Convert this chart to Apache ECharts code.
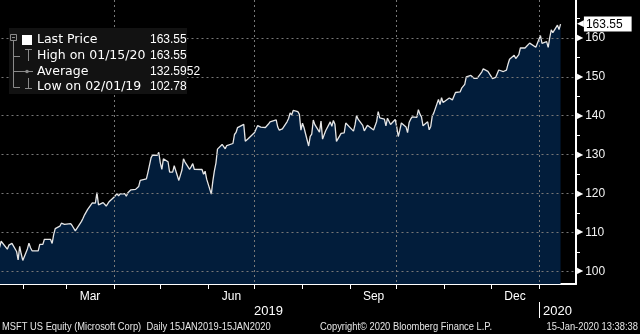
<!DOCTYPE html>
<html>
<head>
<meta charset="utf-8">
<script src="https://cdn.jsdelivr.net/npm/echarts@6/dist/echarts.min.js"></script>
<style>
  html, body { margin: 0; padding: 0; background: #000; }
  #chart { width: 640px; height: 334px; }
</style>
</head>
<body>
<div id="chart"></div>
<script>
// MSFT daily closes, 15 Jan 2019 - 15 Jan 2020
const dates = [
  '2019-01-15','2019-01-16','2019-01-17','2019-01-18','2019-01-22','2019-01-23','2019-01-24','2019-01-25','2019-01-28','2019-01-29','2019-01-30','2019-01-31',
  '2019-02-01','2019-02-04','2019-02-05','2019-02-06','2019-02-07','2019-02-08','2019-02-11','2019-02-12','2019-02-13','2019-02-14','2019-02-15','2019-02-19','2019-02-20','2019-02-21','2019-02-22','2019-02-25','2019-02-26','2019-02-27','2019-02-28',
  '2019-03-01','2019-03-04','2019-03-05','2019-03-06','2019-03-07','2019-03-08','2019-03-11','2019-03-12','2019-03-13','2019-03-14','2019-03-15','2019-03-18','2019-03-19','2019-03-20','2019-03-21','2019-03-22','2019-03-25','2019-03-26','2019-03-27','2019-03-28','2019-03-29',
  '2019-04-01','2019-04-02','2019-04-03','2019-04-04','2019-04-05','2019-04-08','2019-04-09','2019-04-10','2019-04-11','2019-04-12','2019-04-15','2019-04-16','2019-04-17','2019-04-18','2019-04-22','2019-04-23','2019-04-24','2019-04-25','2019-04-26','2019-04-29','2019-04-30',
  '2019-05-01','2019-05-02','2019-05-03','2019-05-06','2019-05-07','2019-05-08','2019-05-09','2019-05-10','2019-05-13','2019-05-14','2019-05-15','2019-05-16','2019-05-17','2019-05-20','2019-05-21','2019-05-22','2019-05-23','2019-05-24','2019-05-28','2019-05-29','2019-05-30','2019-05-31',
  '2019-06-03','2019-06-04','2019-06-05','2019-06-06','2019-06-07','2019-06-10','2019-06-11','2019-06-12','2019-06-13','2019-06-14','2019-06-17','2019-06-18','2019-06-19','2019-06-20','2019-06-21','2019-06-24','2019-06-25','2019-06-26','2019-06-27','2019-06-28',
  '2019-07-01','2019-07-02','2019-07-03','2019-07-05','2019-07-08','2019-07-09','2019-07-10','2019-07-11','2019-07-12','2019-07-15','2019-07-16','2019-07-17','2019-07-18','2019-07-19','2019-07-22','2019-07-23','2019-07-24','2019-07-25','2019-07-26','2019-07-29','2019-07-30','2019-07-31',
  '2019-08-01','2019-08-02','2019-08-05','2019-08-06','2019-08-07','2019-08-08','2019-08-09','2019-08-12','2019-08-13','2019-08-14','2019-08-15','2019-08-16','2019-08-19','2019-08-20','2019-08-21','2019-08-22','2019-08-23','2019-08-26','2019-08-27','2019-08-28','2019-08-29','2019-08-30',
  '2019-09-03','2019-09-04','2019-09-05','2019-09-06','2019-09-09','2019-09-10','2019-09-11','2019-09-12','2019-09-13','2019-09-16','2019-09-17','2019-09-18','2019-09-19','2019-09-20','2019-09-23','2019-09-24','2019-09-25','2019-09-26','2019-09-27','2019-09-30',
  '2019-10-01','2019-10-02','2019-10-03','2019-10-04','2019-10-07','2019-10-08','2019-10-09','2019-10-10','2019-10-11','2019-10-14','2019-10-15','2019-10-16','2019-10-17','2019-10-18','2019-10-21','2019-10-22','2019-10-23','2019-10-24','2019-10-25','2019-10-28','2019-10-29','2019-10-30','2019-10-31',
  '2019-11-01','2019-11-04','2019-11-05','2019-11-06','2019-11-07','2019-11-08','2019-11-11','2019-11-12','2019-11-13','2019-11-14','2019-11-15','2019-11-18','2019-11-19','2019-11-20','2019-11-21','2019-11-22','2019-11-25','2019-11-26','2019-11-27','2019-11-29',
  '2019-12-02','2019-12-03','2019-12-04','2019-12-05','2019-12-06','2019-12-09','2019-12-10','2019-12-11','2019-12-12','2019-12-13','2019-12-16','2019-12-17','2019-12-18','2019-12-19','2019-12-20','2019-12-23','2019-12-24','2019-12-26','2019-12-27','2019-12-30','2019-12-31',
  '2020-01-02','2020-01-03','2020-01-06','2020-01-07','2020-01-08','2020-01-09','2020-01-10','2020-01-13','2020-01-14','2020-01-15'
];
const closes = [
  105.01,105.38,106.12,107.71,105.68,106.71,106.20,107.17,105.08,102.94,106.38,104.43,
  102.78,105.74,107.22,106.03,105.27,105.67,105.25,106.89,106.81,106.90,108.22,108.17,107.15,109.41,110.97,111.59,112.36,112.17,112.03,
  112.53,112.26,111.70,111.75,110.39,110.51,112.83,113.62,114.50,114.59,115.91,117.57,117.65,117.52,120.22,117.05,117.66,117.91,116.77,116.93,117.94,
  119.02,119.19,119.97,119.36,119.89,119.93,119.28,120.19,120.33,120.95,121.05,120.77,121.77,123.37,123.76,125.44,125.01,129.15,129.89,129.77,130.60,
  127.88,126.21,128.90,128.15,125.52,125.51,125.50,127.13,123.35,124.73,126.02,128.93,128.07,126.22,126.90,127.67,126.18,126.24,126.16,124.94,125.73,123.68,
  119.84,123.16,125.83,127.82,131.40,132.60,132.10,131.49,132.32,132.45,132.85,135.16,135.69,136.95,136.97,137.78,133.43,133.93,134.15,133.96,
  135.68,136.58,137.46,137.06,136.96,136.46,137.85,138.40,138.90,138.90,137.08,136.27,136.42,136.62,138.43,139.29,140.72,140.19,141.34,141.03,140.35,136.27,
  138.06,136.90,132.21,134.69,135.28,138.89,137.71,135.79,138.60,133.98,133.68,136.13,138.41,137.26,138.79,137.78,133.39,135.45,135.74,135.56,138.12,137.86,
  136.04,137.63,140.05,139.10,137.52,136.08,136.12,137.52,137.32,136.33,137.39,138.52,141.07,139.44,139.14,137.38,139.36,139.54,137.73,139.03,
  137.07,134.65,136.28,138.12,137.12,135.67,138.24,139.10,139.68,139.55,141.57,140.41,139.69,137.41,138.43,136.37,137.24,139.94,140.73,144.19,142.83,144.61,143.37,
  143.72,144.55,144.46,144.06,144.26,145.96,146.11,147.07,147.31,148.06,149.97,150.34,150.39,149.62,149.48,149.59,151.23,152.03,152.32,151.38,
  149.55,149.31,149.85,150.16,151.75,151.36,151.13,151.70,153.24,154.53,155.53,154.69,154.37,155.71,157.41,157.41,157.38,158.67,158.96,157.59,157.70,
  160.62,158.62,159.03,157.58,160.09,162.09,161.34,163.28,162.13,163.55
];

// Axis ticks and labels
const priceLabels = [100, 110, 120, 130, 140, 150, 160];
const priceMinorTicks = [105, 115, 125, 135, 145, 155, 165];
const monthStarts = ['2019-02-01','2019-03-01','2019-04-01','2019-05-01','2019-06-01','2019-07-01','2019-08-01','2019-09-01','2019-10-01','2019-11-01','2019-12-01','2020-01-01'];
const quarterStarts = ['2019-04-01','2019-07-01','2019-10-01','2020-01-01'];
const monthLabelDates = ['2019-03-16T12:00:00','2019-06-16T00:00:00','2019-09-16T00:00:00','2019-12-16T12:00:00'];
const monthNames = ['Jan','Feb','Mar','Apr','May','Jun','Jul','Aug','Sep','Oct','Nov','Dec'];
const yearLabelDates = ['2019-07-10','2020-01-13'];
const yearBreaks = ['2020-01-01'];
const averagePrice = '132.5952';

// Dates are handled as UTC day timestamps on numeric axes
const t = s => Date.parse(s.length === 10 ? s + 'T00:00:00Z' : s + 'Z');
const X_MIN = t('2019-01-15');
const X_MAX = t('2020-01-25');
const Y_MIN = 96.72;
const Y_MAX = 169.75;

const fmtDate = s => { const p = s.split('-'); return p[1] + '/' + p[2] + '/' + p[0].slice(2); };

const lastIdx = closes.length - 1;
const lastPrice = closes[lastIdx];
let hiIdx = 0, loIdx = 0;
closes.forEach((v, i) => { if (v > closes[hiIdx]) hiIdx = i; if (v < closes[loIdx]) loIdx = i; });

const WORD_FONT = '"DejaVu Sans", sans-serif';
const NUM_FONT = '"Liberation Sans", Arial, sans-serif';
const GRID_LINE = { color: '#777777', width: 1, type: [2, 3] };
const TREE = '#8a8a8a';

const chart = echarts.init(document.getElementById('chart'), null, { renderer: 'canvas' });

const legendRows = [
  { label: 'Last Price', value: lastPrice.toFixed(2), y: 40 },
  { label: 'High on ' + fmtDate(dates[hiIdx]), value: closes[hiIdx].toFixed(2), y: 56 },
  { label: 'Average', value: averagePrice, y: 71.5 },
  { label: 'Low on ' + fmtDate(dates[loIdx]), value: closes[loIdx].toFixed(2), y: 87 }
];

const ln = (x1, y1, x2, y2) => ({ type: 'line', z: 100, shape: { x1, y1, x2, y2 }, style: { stroke: TREE, lineWidth: 1 } });

const legendGraphics = [
  { type: 'rect', z: 99, shape: { x: 9, y: 28, width: 178, height: 66 }, style: { fill: '#121212' } },
  { type: 'rect', z: 100, shape: { x: 10.5, y: 34.5, width: 6, height: 6 }, style: { fill: 'none', stroke: TREE, lineWidth: 1 } },
  ln(12, 37.5, 15, 37.5),
  { type: 'rect', z: 100, shape: { x: 22, y: 35, width: 10, height: 10 }, style: { fill: '#ffffff' } },
  ln(13.5, 41, 13.5, 87.5),
  ln(13.5, 56.5, 20, 56.5), ln(25, 49.5, 32, 49.5), ln(28.5, 49.5, 28.5, 61),
  ln(13.5, 71.5, 33, 71.5),
  { type: 'circle', z: 100, shape: { cx: 27, cy: 71.5, r: 1.8 }, style: { fill: TREE } },
  ln(13.5, 87.5, 20, 87.5), ln(28.5, 78, 28.5, 88.5), ln(25, 88.5, 32, 88.5)
];
legendRows.forEach(r => {
  legendGraphics.push({ type: 'text', z: 101, style: { text: r.label, x: 37, y: r.y, fill: '#ffffff', font: '12.5px ' + WORD_FONT, align: 'left', verticalAlign: 'middle' } });
  legendGraphics.push({ type: 'text', z: 101, style: { text: r.value, x: 150, y: r.y, fill: '#ffffff', font: '12px ' + NUM_FONT, align: 'left', verticalAlign: 'middle' } });
});

// Footer lines use a horizontally condensed sans face
const footText = (text, x, align) => ({
  type: 'text', z: 101, x: x, y: 327, scaleX: 0.85, scaleY: 1,
  style: { text: text, x: 0, y: 0, fill: '#e6e6e6', font: '11px ' + NUM_FONT, align: align, verticalAlign: 'middle' }
});
const footer = [
  footText('MSFT US Equity (Microsoft Corp)  Daily 15JAN2019-15JAN2020', 2, 'left'),
  footText('Copyright\u00A9 2020 Bloomberg Finance L.P.', 320, 'left'),
  footText('15-Jan-2020 13:38:38', 638, 'right')
];

const option = {
  backgroundColor: '#000000',
  animation: false,
  grid: { left: -3.5, right: 64, top: 0, bottom: 50, outerBoundsMode: 'none', containLabel: false },
  xAxis: [
    {
      type: 'value', min: X_MIN, max: X_MAX, position: 'bottom',
      axisLine: { show: true, onZero: false, lineStyle: { color: '#ffffff', width: 2 } },
      axisTick: { show: true, customValues: monthStarts.map(t), length: 5, lineStyle: { color: '#ffffff', width: 1 } },
      axisLabel: {
        customValues: monthLabelDates.map(t), margin: 7, color: '#ffffff', fontSize: 12, fontFamily: NUM_FONT,
        formatter: v => monthNames[new Date(v).getUTCMonth()]
      },
      splitLine: { show: false }
    },
    {
      type: 'value', min: X_MIN, max: X_MAX, position: 'bottom', z: 3,
      axisLine: { show: false, onZero: false },
      axisTick: { show: false, customValues: quarterStarts.map(t) },
      axisLabel: { show: false },
      splitLine: { show: true, lineStyle: GRID_LINE }
    },
    {
      type: 'value', min: X_MIN, max: X_MAX, position: 'bottom', offset: 18,
      axisLine: { show: false, onZero: false },
      axisTick: { show: true, customValues: yearBreaks.map(t), length: 16, lineStyle: { color: '#ffffff', width: 1 } },
      axisLabel: {
        customValues: yearLabelDates.map(t), margin: 3, color: '#ffffff', fontSize: 13, fontFamily: NUM_FONT,
        formatter: v => String(new Date(v).getUTCFullYear())
      },
      splitLine: { show: false }
    }
  ],
  yAxis: [
    {
      type: 'value', position: 'right', min: Y_MIN, max: Y_MAX,
      axisLine: { show: true, lineStyle: { color: '#ffffff', width: 2 } },
      axisTick: { show: true, customValues: priceMinorTicks, length: 4, lineStyle: { color: '#ffffff', width: 1 } },
      axisLabel: { show: false },
      splitLine: { show: false }
    },
    {
      type: 'value', position: 'right', min: Y_MIN, max: Y_MAX, z: 3,
      axisLine: { show: false },
      axisTick: { show: false, customValues: priceLabels },
      axisLabel: {
        customValues: priceLabels, margin: 1,
        formatter: v => '{tri|\u25B6}{num|' + v + '}',
        rich: {
          tri: { color: '#ffffff', fontSize: 8, fontFamily: WORD_FONT },
          num: { color: '#f2f2f2', fontSize: 12, fontFamily: NUM_FONT, padding: [0, 0, 0, 2] }
        }
      },
      splitLine: { show: true, lineStyle: GRID_LINE }
    },
    {
      type: 'value', position: 'right', min: Y_MIN, max: Y_MAX, z: 4,
      axisLine: { show: false },
      axisTick: { show: false, customValues: [lastPrice] },
      axisLabel: {
        customValues: [lastPrice], margin: 1,
        formatter: v => '{arr|\u25C0}{box|' + Number(v).toFixed(2) + '}',
        rich: {
          arr: { color: '#ffffff', fontSize: 9, fontFamily: WORD_FONT },
          box: { color: '#000000', backgroundColor: '#ffffff', fontSize: 12, fontFamily: NUM_FONT, padding: [2, 9, 1, 2] }
        }
      },
      splitLine: { show: false }
    }
  ],
  series: [
    {
      type: 'line', xAxisIndex: 0, yAxisIndex: 0, z: 2,
      data: dates.map((d, i) => [t(d), closes[i]]),
      showSymbol: false, symbol: 'none',
      lineStyle: { color: '#e6e6e6', width: 1.3 },
      areaStyle: { color: '#021d3b', opacity: 1, origin: 'start' }
    }
  ],
  graphic: legendGraphics.concat(footer)
};

chart.setOption(option);
</script>
</body>
</html>
